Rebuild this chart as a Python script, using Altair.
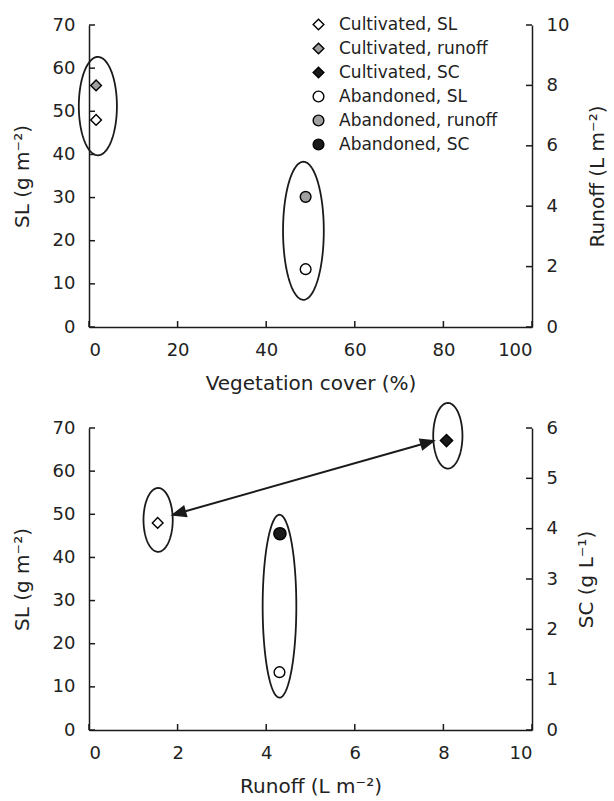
import math
import numpy as np
import pandas as pd
import altair as alt

# ---- upper panel: sediment load (SL) and runoff against vegetation cover ----
land_use = ["Cultivated", "Abandoned"]
veg_cover = [1.6, 48.9]
sl_top = [48.0, 13.4]
runoff_top = [8.0, 4.31]

# ---- lower panel: SL and sediment concentration (SC) against runoff ----
runoff_for_sl = [1.55, 4.30]
sl_bottom = [48.0, 13.4]
runoff_for_sc = [8.07, 4.31]
sc_bottom = [5.75, 3.9]

series_names = ["Cultivated, SL", "Cultivated, runoff", "Cultivated, SC",
                "Abandoned, SL", "Abandoned, runoff", "Abandoned, SC"]
series_shapes = ["diamond", "diamond", "diamond", "circle", "circle", "circle"]
series_fills = ["white", "#a0a0a0", "#1a1a1a", "white", "#a0a0a0", "#1a1a1a"]
style = {n: (s, f) for n, s, f in zip(series_names, series_shapes, series_fills)}

# grouping ellipses, in data units (centre x, centre SL, half-width, half-height)
top_ell_cx = [2.0, 48.4]
top_ell_cy = [51.2, 22.3]
top_ell_rx = [4.3, 4.6]
top_ell_ry = [11.4, 16.0]

bot_ell_cx = [1.56, 4.30, 8.10]
bot_ell_cy = [48.7, 28.7, 68.2]
bot_ell_rx = [0.33, 0.38, 0.33]
bot_ell_ry = [7.4, 21.2, 7.6]

# double-headed arrow (runoff, SL)
arrow_x = [1.9, 7.77]
arrow_sl = [49.9, 67.0]

sl_ticks = [0, 10, 20, 30, 40, 50, 60, 70]
runoff_ticks = [0, 2, 4, 6, 8, 10]
veg_ticks = [0, 20, 40, 60, 80, 100]
sc_ticks = [0, 1, 2, 3, 4, 5, 6]

W, H = 443, 302
FONT = "DejaVu Sans"
INK = "#1a1a1a"
TICK = 6


def ellipse_table(cx, cy, rx, ry, n=140):
    rows = []
    for i, (a, b, c, d) in enumerate(zip(cx, cy, rx, ry)):
        for k, t in enumerate(np.linspace(0, 2 * np.pi, n)):
            rows.append({"e": i, "k": k, "x": a + c * np.cos(t), "y": b + d * np.sin(t)})
    return pd.DataFrame(rows)


def left_axis(title):
    return alt.Axis(orient="left", values=sl_ticks, ticks=False, tickSize=0, grid=False,
                    labelPadding=14, title=title, titlePadding=20)


def right_axis(values, title):
    return alt.Axis(orient="right", values=values, ticks=False, tickSize=0, grid=False,
                    labelPadding=14, title=title, titlePadding=19,
                    titleAngle=270, titleBaseline="top")


def bottom_axis(values, title):
    return alt.Axis(orient="bottom", values=values, ticks=False, tickSize=0, grid=False,
                    labelPadding=14, title=title, titlePadding=14)


def inward_y_ticks(values, scale, axis, side):
    x0, x1 = (0, TICK) if side == "left" else (W - TICK, W)
    return alt.Chart(pd.DataFrame({"v": values})).mark_rule(color=INK, strokeWidth=1.5).encode(
        x=alt.value(x0), x2=alt.value(x1),
        y=alt.Y("v:Q", scale=scale, axis=axis))


def inward_x_ticks(values, scale, axis):
    return alt.Chart(pd.DataFrame({"v": values})).mark_rule(color=INK, strokeWidth=1.5).encode(
        x=alt.X("v:Q", scale=scale, axis=axis),
        y=alt.value(H), y2=alt.value(H - TICK))


# ================= upper panel =================
x_top = alt.Scale(domain=[0, 100], nice=False)
sl_scale = alt.Scale(domain=[0, 70], nice=False)
ro_scale = alt.Scale(domain=[0, 10], nice=False)
ax_veg = bottom_axis(veg_ticks, "Vegetation cover (%)")
ax_sl_top = left_axis("SL (g m⁻²)")
ax_ro = right_axis(runoff_ticks, "Runoff (L m⁻²)")

legend = alt.Legend(title=None, orient="none", legendX=221, legendY=-9,
                    labelFont=FONT, labelFontSize=17, labelColor="#222",
                    symbolSize=115, symbolStrokeWidth=1.4,
                    labelOffset=12, rowPadding=6, padding=0)
shape_enc = alt.Shape("series:N", scale=alt.Scale(domain=series_names, range=series_shapes), legend=legend)
fill_enc = alt.Fill("series:N", scale=alt.Scale(domain=series_names, range=series_fills), legend=legend)
stroke_enc = alt.Stroke("series:N", scale=alt.Scale(domain=series_names, range=["black"] * 6), legend=legend)

top_sl = pd.DataFrame({"x": veg_cover, "y": sl_top, "series": [f"{u}, SL" for u in land_use]})
top_ro = pd.DataFrame({"x": veg_cover, "y": runoff_top, "series": [f"{u}, runoff" for u in land_use]})

top_sl_points = alt.Chart(top_sl).mark_point(filled=True, strokeWidth=1.4, size=115, opacity=1).encode(
    x=alt.X("x:Q", scale=x_top, axis=ax_veg),
    y=alt.Y("y:Q", scale=sl_scale, axis=ax_sl_top),
    shape=shape_enc, fill=fill_enc, stroke=stroke_enc)

top_ellipses = alt.Chart(ellipse_table(top_ell_cx, top_ell_cy, top_ell_rx, top_ell_ry)).mark_line(
    color=INK, strokeWidth=1.8).encode(
    x=alt.X("x:Q", scale=x_top, axis=ax_veg),
    y=alt.Y("y:Q", scale=sl_scale, axis=ax_sl_top),
    detail="e:N", order="k:Q")

top_left = alt.layer(top_ellipses, top_sl_points,
                     inward_y_ticks(sl_ticks, sl_scale, ax_sl_top, "left"),
                     inward_x_ticks(veg_ticks, x_top, ax_veg))

top_ro_points = alt.Chart(top_ro).mark_point(filled=True, strokeWidth=1.4, size=115, opacity=1).encode(
    x=alt.X("x:Q", scale=x_top, axis=ax_veg),
    y=alt.Y("y:Q", scale=ro_scale, axis=ax_ro),
    shape=shape_enc, fill=fill_enc, stroke=stroke_enc)

top_right = alt.layer(top_ro_points, inward_y_ticks(runoff_ticks, ro_scale, ax_ro, "right"))

top_panel = alt.layer(top_left, top_right).resolve_scale(y="independent").properties(width=W, height=H)

# ================= lower panel =================
x_bot = alt.Scale(domain=[0, 10], nice=False)
sl_scale_b = alt.Scale(domain=[0, 70], nice=False)
sc_scale = alt.Scale(domain=[0, 6], nice=False)
ax_runoff = bottom_axis(runoff_ticks, "Runoff (L m⁻²)")
ax_sl_bot = left_axis("SL (g m⁻²)")
ax_sc = right_axis(sc_ticks, "SC (g L⁻¹)")


def points(df, series, yscale, yaxis, size):
    shp, fl = style[series]
    return alt.Chart(df).mark_point(filled=True, stroke="black", strokeWidth=1.4, opacity=1,
                                    shape=shp, fill=fl, size=size).encode(
        x=alt.X("x:Q", scale=x_bot, axis=ax_runoff),
        y=alt.Y("y:Q", scale=yscale, axis=yaxis))


bot_cult_sl = points(pd.DataFrame({"x": [runoff_for_sl[0]], "y": [sl_bottom[0]]}), "Cultivated, SL",
                     sl_scale_b, ax_sl_bot, 115)
bot_aban_sl = points(pd.DataFrame({"x": [runoff_for_sl[1]], "y": [sl_bottom[1]]}), "Abandoned, SL",
                     sl_scale_b, ax_sl_bot, 115)

bot_ellipses = alt.Chart(ellipse_table(bot_ell_cx, bot_ell_cy, bot_ell_rx, bot_ell_ry)).mark_line(
    color=INK, strokeWidth=1.8).encode(
    x=alt.X("x:Q", scale=x_bot, axis=ax_runoff),
    y=alt.Y("y:Q", scale=sl_scale_b, axis=ax_sl_bot),
    detail="e:N", order="k:Q")

arrow_df = pd.DataFrame({"x": arrow_x, "y": arrow_sl})
arrow_line = alt.Chart(arrow_df).mark_line(color=INK, strokeWidth=2).encode(
    x=alt.X("x:Q", scale=x_bot, axis=ax_runoff),
    y=alt.Y("y:Q", scale=sl_scale_b, axis=ax_sl_bot))

# heading of the arrow on screen, from the panel's pixel-per-unit ratios
dx = (arrow_x[1] - arrow_x[0]) * W / 10
dy = (arrow_sl[1] - arrow_sl[0]) * H / 70
theta = math.degrees(math.atan2(dy, dx))
head_path = "M0,0 L-2,-0.8 L-2,0.8 Z"
head_df = pd.DataFrame({"x": arrow_x, "y": arrow_sl,
                        "a": [(180 - theta) % 360, (360 - theta) % 360]})
arrow_heads = alt.Chart(head_df).mark_point(shape=head_path, filled=True, fill=INK,
                                            stroke=INK, size=150, opacity=1).encode(
    x=alt.X("x:Q", scale=x_bot, axis=ax_runoff),
    y=alt.Y("y:Q", scale=sl_scale_b, axis=ax_sl_bot),
    angle=alt.Angle("a:Q", scale=None))

bot_left = alt.layer(bot_ellipses, arrow_line, arrow_heads, bot_cult_sl, bot_aban_sl,
                     inward_y_ticks(sl_ticks, sl_scale_b, ax_sl_bot, "left"),
                     inward_x_ticks(runoff_ticks, x_bot, ax_runoff))

bot_cult_sc = points(pd.DataFrame({"x": [runoff_for_sc[0]], "y": [sc_bottom[0]]}), "Cultivated, SC",
                     sc_scale, ax_sc, 150)
bot_aban_sc = points(pd.DataFrame({"x": [runoff_for_sc[1]], "y": [sc_bottom[1]]}), "Abandoned, SC",
                     sc_scale, ax_sc, 150)

bot_right = alt.layer(bot_cult_sc, bot_aban_sc, inward_y_ticks(sc_ticks, sc_scale, ax_sc, "right"))

bottom_panel = alt.layer(bot_left, bot_right).resolve_scale(y="independent").properties(width=W, height=H)

chart = alt.vconcat(top_panel, bottom_panel, spacing=101, bounds="flush").properties(
    padding={"left": 12, "top": 16, "right": 2, "bottom": 2},
    background="white"
).configure_view(strokeWidth=0).configure_axis(
    labelFont=FONT, titleFont=FONT, labelFontSize=18, titleFontSize=20,
    titleFontWeight="normal", labelColor="#222", titleColor="#222",
    domainColor=INK, domainWidth=1.5, grid=False
)

chart.save("out.html", embed_options={"renderer": "svg", "actions": False})
